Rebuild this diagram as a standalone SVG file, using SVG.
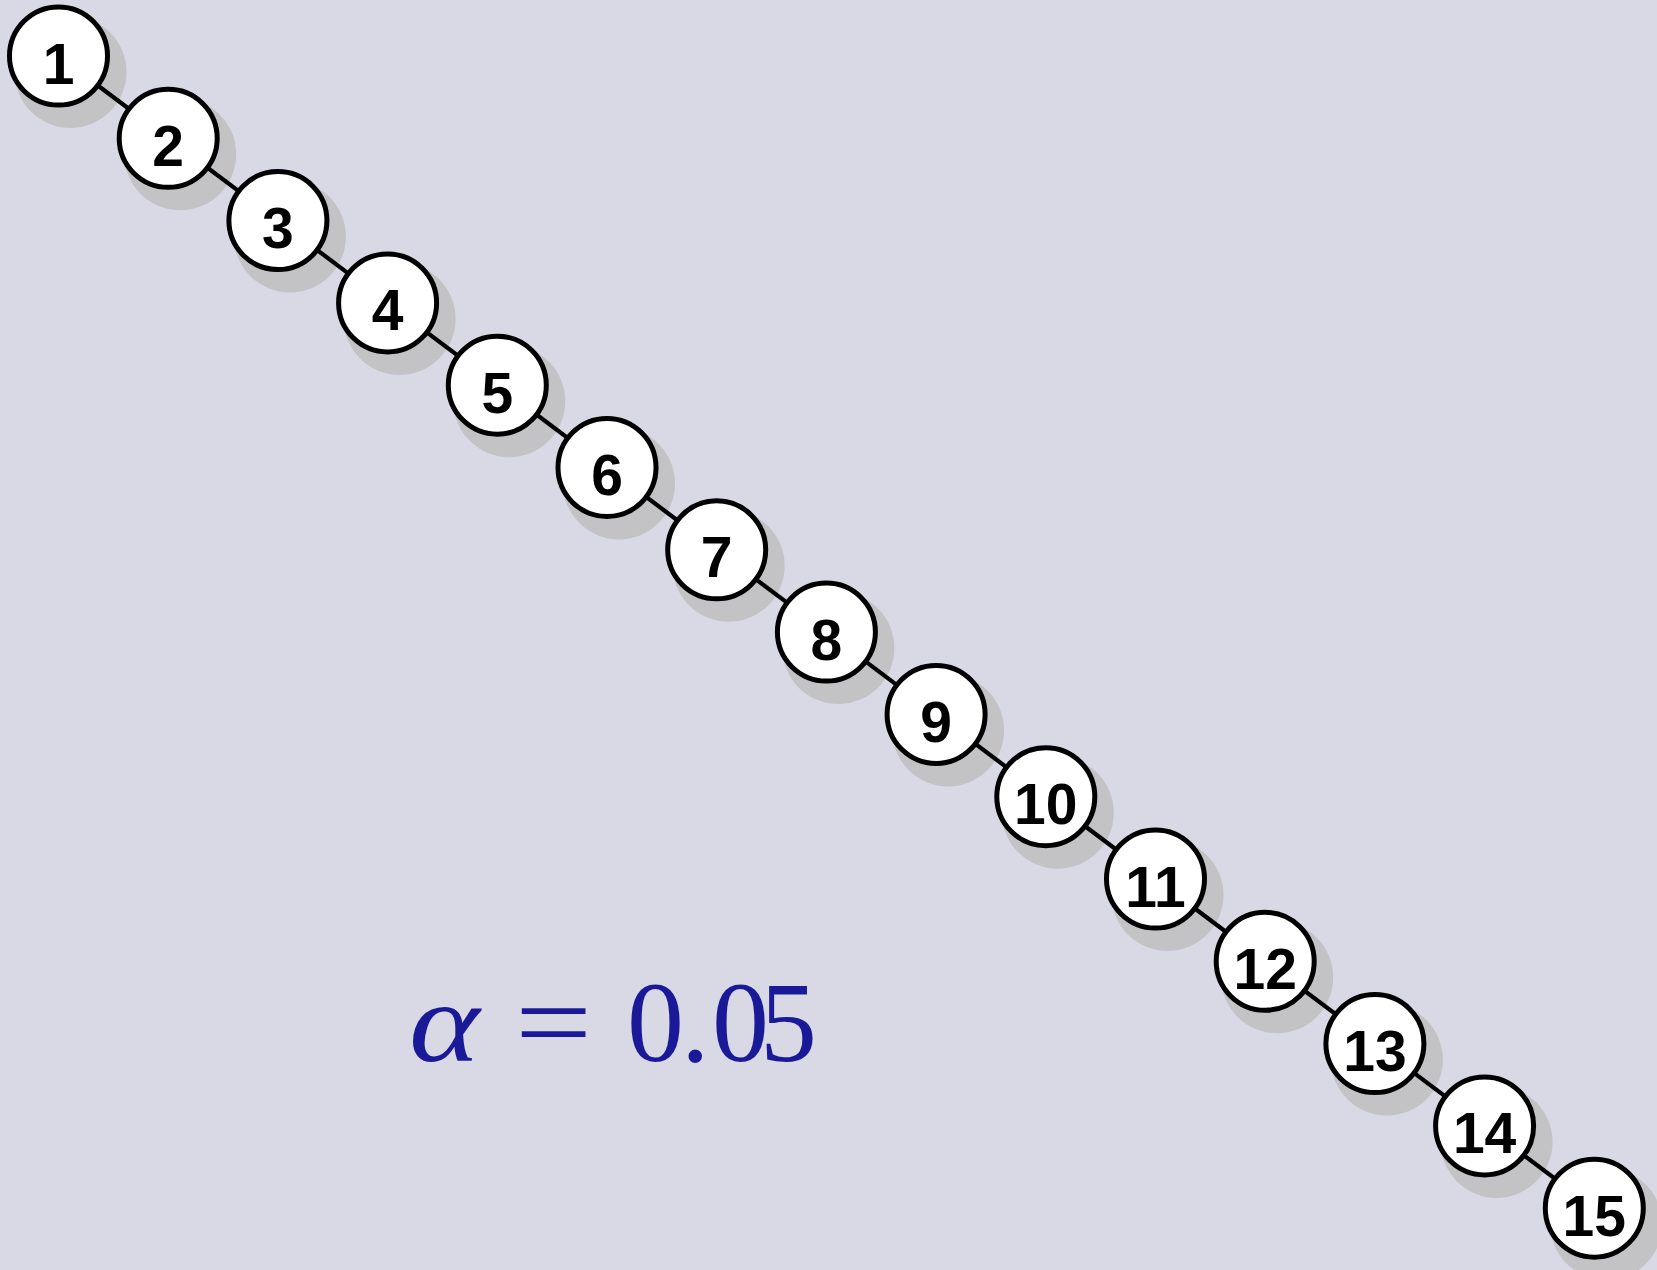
<svg xmlns="http://www.w3.org/2000/svg" width="1657" height="1270" viewBox="0 0 1657 1270">
<style>
.sh{fill:#c3c3c6}
.nd{fill:#fff;stroke:#000;stroke-width:5}
.lb{font-family:"Liberation Sans",Arial,sans-serif;font-weight:bold;font-size:57px;fill:#000;text-anchor:middle}
.ed{stroke:#000;stroke-width:4.2;fill:none}
.mt{font-family:"Liberation Serif","Times New Roman",serif;font-size:114px;fill:#1a1a99}
</style>
<rect width="1657" height="1270" fill="#d9d9e5"/>
<g id="shadows">
<circle class="sh" cx="70.5" cy="72" r="56"/>
<circle class="sh" cx="180.2" cy="154.3" r="56"/>
<circle class="sh" cx="289.9" cy="236.6" r="56"/>
<circle class="sh" cx="399.6" cy="318.9" r="56"/>
<circle class="sh" cx="509.3" cy="401.2" r="56"/>
<circle class="sh" cx="619" cy="483.5" r="56"/>
<circle class="sh" cx="728.7" cy="565.8" r="56"/>
<circle class="sh" cx="838.4" cy="648.1" r="56"/>
<circle class="sh" cx="948.1" cy="730.4" r="56"/>
<circle class="sh" cx="1057.8" cy="812.7" r="56"/>
<circle class="sh" cx="1167.5" cy="895" r="56"/>
<circle class="sh" cx="1277.2" cy="977.3" r="56"/>
<circle class="sh" cx="1386.9" cy="1059.6" r="56"/>
<circle class="sh" cx="1496.6" cy="1141.9" r="56"/>
<circle class="sh" cx="1606.3" cy="1224.2" r="56"/>
</g>
<g id="connectors">
<line class="ed" x1="58.5" y1="56" x2="168.2" y2="138.3"/>
<line class="ed" x1="168.2" y1="138.3" x2="277.9" y2="220.6"/>
<line class="ed" x1="277.9" y1="220.6" x2="387.6" y2="302.9"/>
<line class="ed" x1="387.6" y1="302.9" x2="497.3" y2="385.2"/>
<line class="ed" x1="497.3" y1="385.2" x2="607" y2="467.5"/>
<line class="ed" x1="607" y1="467.5" x2="716.7" y2="549.8"/>
<line class="ed" x1="716.7" y1="549.8" x2="826.4" y2="632.1"/>
<line class="ed" x1="826.4" y1="632.1" x2="936.1" y2="714.4"/>
<line class="ed" x1="936.1" y1="714.4" x2="1045.8" y2="796.7"/>
<line class="ed" x1="1045.8" y1="796.7" x2="1155.5" y2="879"/>
<line class="ed" x1="1155.5" y1="879" x2="1265.2" y2="961.3"/>
<line class="ed" x1="1265.2" y1="961.3" x2="1374.9" y2="1043.6"/>
<line class="ed" x1="1374.9" y1="1043.6" x2="1484.6" y2="1125.9"/>
<line class="ed" x1="1484.6" y1="1125.9" x2="1594.3" y2="1208.2"/>
</g>
<g id="n1"><circle class="nd" cx="58.5" cy="56" r="49"/><text class="lb" x="58.5" y="83.5">1</text></g>
<g id="n2"><circle class="nd" cx="168.2" cy="138.3" r="49"/><text class="lb" x="168.2" y="165.8">2</text></g>
<g id="n3"><circle class="nd" cx="277.9" cy="220.6" r="49"/><text class="lb" x="277.9" y="248.1">3</text></g>
<g id="n4"><circle class="nd" cx="387.6" cy="302.9" r="49"/><text class="lb" x="387.6" y="330.4">4</text></g>
<g id="n5"><circle class="nd" cx="497.3" cy="385.2" r="49"/><text class="lb" x="497.3" y="412.7">5</text></g>
<g id="n6"><circle class="nd" cx="607" cy="467.5" r="49"/><text class="lb" x="607" y="495">6</text></g>
<g id="n7"><circle class="nd" cx="716.7" cy="549.8" r="49"/><text class="lb" x="716.7" y="577.3">7</text></g>
<g id="n8"><circle class="nd" cx="826.4" cy="632.1" r="49"/><text class="lb" x="826.4" y="659.6">8</text></g>
<g id="n9"><circle class="nd" cx="936.1" cy="714.4" r="49"/><text class="lb" x="936.1" y="741.9">9</text></g>
<g id="n10"><circle class="nd" cx="1045.8" cy="796.7" r="49"/><text class="lb" x="1045.8" y="824.2">10</text></g>
<g id="n11"><circle class="nd" cx="1155.5" cy="879" r="49"/><text class="lb" x="1155.5" y="906.5">11</text></g>
<g id="n12"><circle class="nd" cx="1265.2" cy="961.3" r="49"/><text class="lb" x="1265.2" y="988.8">12</text></g>
<g id="n13"><circle class="nd" cx="1374.9" cy="1043.6" r="49"/><text class="lb" x="1374.9" y="1071.1">13</text></g>
<g id="n14"><circle class="nd" cx="1484.6" cy="1125.9" r="49"/><text class="lb" x="1484.6" y="1153.4">14</text></g>
<g id="n15"><circle class="nd" cx="1594.3" cy="1208.2" r="49"/><text class="lb" x="1594.3" y="1235.7">15</text></g>
<g id="formula">
<text class="mt" transform="translate(409,1061) scale(1.18,1)" x="0" y="0" font-style="italic">α</text>
<text class="mt" transform="translate(515,1061) scale(1.2,1)" x="0" y="0">=</text>
<text class="mt" x="627 681 712 760" y="1061">0.05</text>
</g>
</svg>
